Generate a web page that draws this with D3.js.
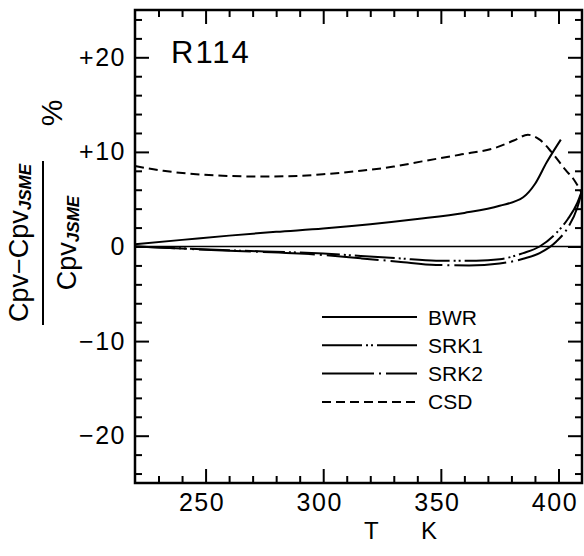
<!DOCTYPE html>
<html>
  <head>
    <meta charset="UTF-8">
    <style>
      body {
        margin: 0;
        background: white;
        font-family: "Liberation Sans", Arial, Helvetica, sans-serif;
      }
      svg text {
        fill: black;
      }
    </style>
    <script src="https://cdn.jsdelivr.net/npm/d3@7/dist/d3.min.js"></script>
  </head>
  <body>
    <svg id="chart"></svg>
    <script type="text/javascript">
      // values
      let bwrT = [220, 240, 260, 280, 300, 320, 340, 360, 375, 385, 390, 395, 401];
      let bwrV = [0.25, 0.7, 1.15, 1.55, 1.9, 2.35, 2.9, 3.55, 4.3, 5.2, 6.6, 8.9, 11.3];

      let srk1T = [220, 260, 300, 316, 332, 348, 365, 375, 385, 392, 399, 404, 408, 410];
      let srk1V = [0, -0.4, -0.75, -1.0, -1.25, -1.5, -1.5, -1.35, -0.7, 0, 1.4, 2.9, 4.6, 5.9];

      let srk2T = [220, 260, 300, 316, 332, 348, 362, 375, 385, 392, 399, 404, 408, 410];
      let srk2V = [0, -0.45, -0.9, -1.25, -1.6, -1.95, -2.0, -1.8, -1.3, -0.7, 0.5, 2.0, 4.1, 5.9];

      let csdT = [220, 232, 246, 260, 274, 289, 303, 316, 330, 342, 358, 374, 381, 387, 392, 397, 403, 407, 410];
      let csdV = [8.5, 8.0, 7.65, 7.45, 7.4, 7.45, 7.7, 8.0, 8.45, 9.0, 9.7, 10.5, 11.2, 11.8, 11.3, 10.0, 8.1, 6.9, 5.6];

      let xMajorTicks = [250, 300, 350, 400];
      let xMinorTicks = [230, 240, 260, 270, 280, 290, 310, 320, 330, 340, 360, 370, 380, 390];
      let yMajorTicks = [-20, -10, 0, 10, 20];
      let yMinorTicks = [-24, -22, -18, -16, -14, -12, -8, -6, -4, -2, 2, 4, 6, 8, 12, 14, 16, 18, 22, 24];

      let seriesNames = ['BWR', 'SRK1', 'SRK2', 'CSD'];

      let width = 584;
      let height = 556;
      let margin = {top: 10, left: 135, right: 2, bottom: 73};
      let bodyWidth = width - margin.left - margin.right;
      let bodyHeight = height - margin.top - margin.bottom;

      let dashes = {
        BWR: null,
        SRK1: '40,4,2,3,2,4',
        SRK2: '52,5,2,5',
        CSD: '9,5'
      };

      let svg = d3.select('#chart')
        .attr('width', width)
        .attr('height', height);

      let xScale = d3.scaleLinear().domain([220, 410]).range([0, bodyWidth]);
      let yScale = d3.scaleLinear().domain([-25, 25]).range([bodyHeight, 0]);

      let body = svg.append('g')
        .attr('transform', `translate(${margin.left},${margin.top})`);

      function fmtY(d) {
        if (d > 0) return '+' + d;
        if (d < 0) return '\u2212' + Math.abs(d);
        return '0';
      }

      function styleAxis(g, fontSize) {
        g.select('.domain').remove();
        g.selectAll('.tick line').attr('stroke', 'black').attr('stroke-width', 2);
        g.selectAll('.tick text')
          .style('font-family', '"Liberation Sans", Arial, sans-serif')
          .style('font-size', fontSize + 'px')
          .style('letter-spacing', '1.5px')
          .attr('fill', 'black');
      }

      // left axis
      body.append('g')
        .call(d3.axisLeft(yScale).tickValues(yMajorTicks).tickSize(-14).tickPadding(9).tickFormat(fmtY))
        .call(g => styleAxis(g, 25));
      body.append('g')
        .call(d3.axisLeft(yScale).tickValues(yMinorTicks).tickSize(-7).tickFormat(''))
        .call(g => styleAxis(g, 25));

      // right axis
      body.append('g')
        .attr('transform', `translate(${bodyWidth},0)`)
        .call(d3.axisRight(yScale).tickValues(yMajorTicks).tickSize(-14).tickFormat(''))
        .call(g => styleAxis(g, 25));
      body.append('g')
        .attr('transform', `translate(${bodyWidth},0)`)
        .call(d3.axisRight(yScale).tickValues(yMinorTicks).tickSize(-7).tickFormat(''))
        .call(g => styleAxis(g, 25));

      // bottom axis
      let bottomAxis = body.append('g')
        .attr('transform', `translate(0,${bodyHeight})`)
        .call(d3.axisBottom(xScale).tickValues(xMajorTicks).tickSize(-14).tickPadding(10))
        .call(g => styleAxis(g, 25));
      bottomAxis.selectAll('.tick text').attr('dx', -4);
      body.append('g')
        .attr('transform', `translate(0,${bodyHeight})`)
        .call(d3.axisBottom(xScale).tickValues(xMinorTicks).tickSize(-7).tickFormat(''))
        .call(g => styleAxis(g, 25));

      // top axis
      body.append('g')
        .call(d3.axisTop(xScale).tickValues(xMajorTicks).tickSize(-14).tickFormat(''))
        .call(g => styleAxis(g, 25));
      body.append('g')
        .call(d3.axisTop(xScale).tickValues(xMinorTicks).tickSize(-7).tickFormat(''))
        .call(g => styleAxis(g, 25));

      // frame
      body.append('rect')
        .attr('width', bodyWidth)
        .attr('height', bodyHeight)
        .attr('fill', 'none')
        .attr('stroke', 'black')
        .attr('stroke-width', 2.5);

      // zero line
      body.append('line')
        .attr('x1', 0)
        .attr('x2', bodyWidth)
        .attr('y1', yScale(0))
        .attr('y2', yScale(0))
        .attr('stroke', 'black')
        .attr('stroke-width', 1.5);

      let line = d3.line()
        .x(d => xScale(d[0]))
        .y(d => yScale(d[1]))
        .curve(d3.curveMonotoneX);

      let series = [
        {name: 'BWR', points: d3.zip(bwrT, bwrV)},
        {name: 'SRK1', points: d3.zip(srk1T, srk1V)},
        {name: 'SRK2', points: d3.zip(srk2T, srk2V)},
        {name: 'CSD', points: d3.zip(csdT, csdV)}
      ];

      body.selectAll('.curve')
        .data(series)
        .enter()
        .append('path')
        .attr('class', 'curve')
        .attr('d', d => line(d.points))
        .attr('fill', 'none')
        .attr('stroke', 'black')
        .attr('stroke-width', 2)
        .attr('stroke-dasharray', d => dashes[d.name]);

      // legend
      let legend = svg.append('g').attr('transform', 'translate(322,317)');
      let rows = legend.selectAll('.row')
        .data(seriesNames)
        .enter()
        .append('g')
        .attr('transform', (d, i) => `translate(0,${i * 28.3})`);
      rows.append('line')
        .attr('x1', 0)
        .attr('x2', 95)
        .attr('stroke', 'black')
        .attr('stroke-width', 2)
        .attr('stroke-dasharray', d => dashes[d]);
      rows.append('text')
        .attr('x', 106)
        .attr('dy', '0.36em')
        .style('font-size', '21px')
        .text(d => d);

      // panel label
      svg.append('text')
        .attr('x', 171)
        .attr('y', 63)
        .style('font-size', '31px')
        .style('letter-spacing', '2px')
        .text('R114');

      // x axis title
      svg.append('text').attr('x', 364).attr('y', 539).style('font-size', '24px').text('T');
      svg.append('text').attr('x', 421).attr('y', 539).style('font-size', '24px').text('K');

      // y axis title: fraction, rotated
      let ylab = svg.append('g').attr('transform', 'translate(43,243) rotate(-90)');
      ylab.append('line')
        .attr('x1', -82)
        .attr('x2', 82)
        .attr('stroke', 'black')
        .attr('stroke-width', 2);
      let num = ylab.append('text')
        .attr('x', 0)
        .attr('y', -15)
        .attr('text-anchor', 'middle')
        .style('font-size', '27px');
      num.append('tspan').text('Cpv\u2212Cpv');
      num.append('tspan')
        .attr('dy', 3)
        .style('font-size', '17px')
        .style('font-style', 'italic')
        .style('font-weight', 'bold')
        .text('JSME');
      let den = ylab.append('text')
        .attr('x', 0)
        .attr('y', 33)
        .attr('text-anchor', 'middle')
        .style('font-size', '27px');
      den.append('tspan').text('Cpv');
      den.append('tspan')
        .attr('dy', 3)
        .style('font-size', '17px')
        .style('font-style', 'italic')
        .style('font-weight', 'bold')
        .text('JSME');
      ylab.append('text')
        .attr('x', 130)
        .attr('y', 19)
        .attr('text-anchor', 'middle')
        .style('font-size', '30px')
        .text('%');
    </script>
  </body>
</html>
